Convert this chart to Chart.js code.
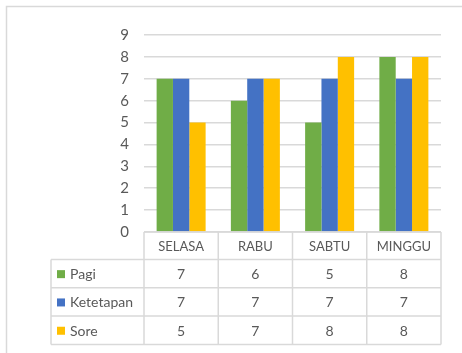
<!DOCTYPE html>
<html>
<head>
<meta charset="utf-8">
<script src="https://cdn.jsdelivr.net/npm/chart.js@4.4.1/dist/chart.umd.min.js"></script>
<style>
  body { margin: 0; background: #ffffff; }
  canvas { display: block; }
</style>
</head>
<body>
<canvas id="chart" width="462" height="353"></canvas>
<script>
const days = ["SELASA", "RABU", "SABTU", "MINGGU"];
const pagi = [7, 6, 5, 8];
const ketetapan = [7, 7, 7, 7];
const sore = [5, 7, 8, 8];
const yTicks = [0, 1, 2, 3, 4, 5, 6, 7, 8, 9];

const seriesNames = ["Pagi", "Ketetapan", "Sore"];
const seriesColors = ["#70AD47", "#4472C4", "#FFC000"];
const seriesData = [pagi, ketetapan, sore];

const fontFamily = "Lato, 'Open Sans', sans-serif";
const lineColor = "#d9d9d9";
const textColor = "#595959";

// draws the outer frame and the data table under the plot
const tablePlugin = {
    id: "dataTable",
    afterDraw(chart) {
        const ctx = chart.ctx;
        const x = chart.scales.x;
        const area = chart.chartArea;
        const colW = (area.right - area.left) / days.length;
        const headerTop = area.bottom;
        const headerH = 27.5;
        const rowH = 28.3;
        const legendLeft = 51;
        const tableBottom = headerTop + headerH + rowH * seriesNames.length;

        ctx.save();
        // outer chart frame
        ctx.strokeStyle = lineColor;
        ctx.lineWidth = 1.5;
        ctx.beginPath();
        ctx.moveTo(6.5, chart.height + 5);
        ctx.lineTo(6.5, 6.5);
        ctx.lineTo(chart.width + 5, 6.5);
        ctx.stroke();

        // table lines
        ctx.beginPath();
        ctx.moveTo(area.left, headerTop);
        ctx.lineTo(area.right, headerTop);
        for (let r = 0; r <= seriesNames.length; r++) {
            const yy = headerTop + headerH + r * rowH;
            ctx.moveTo(legendLeft, yy);
            ctx.lineTo(area.right, yy);
        }
        for (let c = 0; c <= days.length; c++) {
            const xx = area.left + c * colW;
            ctx.moveTo(xx, headerTop);
            ctx.lineTo(xx, tableBottom);
        }
        ctx.moveTo(legendLeft, headerTop + headerH);
        ctx.lineTo(legendLeft, tableBottom);
        ctx.stroke();

        // header labels
        ctx.fillStyle = textColor;
        ctx.textAlign = "center";
        ctx.textBaseline = "middle";
        ctx.font = "13px " + fontFamily;
        days.forEach((d, i) => {
            ctx.fillText(d, x.getPixelForValue(i), headerTop + headerH / 2 + 1);
        });

        // rows
        ctx.font = "14px " + fontFamily;
        seriesNames.forEach((name, r) => {
            const cy = headerTop + headerH + r * rowH + rowH / 2 + 1;
            ctx.fillStyle = seriesColors[r];
            ctx.fillRect(57, cy - 4.5, 8, 8);
            ctx.fillStyle = textColor;
            ctx.textAlign = "left";
            ctx.fillText(name, 70, cy);
            ctx.textAlign = "center";
            seriesData[r].forEach((v, i) => {
                ctx.fillText(String(v), x.getPixelForValue(i), cy);
            });
        });
        ctx.restore();
    }
};

new Chart(document.getElementById("chart"), {
    type: "bar",
    data: {
        labels: days,
        datasets: seriesNames.map((name, i) => ({
            label: name,
            data: seriesData[i],
            backgroundColor: seriesColors[i],
            borderWidth: 0,
            categoryPercentage: 0.66,
            barPercentage: 1.0
        }))
    },
    options: {
        responsive: false,
        animation: false,
        layout: {
            padding: { top: 35, right: 21, bottom: 121, left: 0 }
        },
        plugins: {
            legend: { display: false },
            tooltip: { enabled: false }
        },
        scales: {
            x: {
                display: false
            },
            y: {
                min: 0,
                max: 9,
                afterFit(scale) { scale.width = 144; },
                afterBuildTicks(scale) { scale.ticks = yTicks.map(v => ({ value: v })); },
                border: { display: false },
                grid: { color: lineColor, lineWidth: 1.5, drawTicks: false },
                ticks: {
                    color: textColor,
                    padding: 15,
                    font: { family: fontFamily, size: 15 }
                }
            }
        }
    },
    plugins: [tablePlugin]
});
</script>
</body>
</html>
